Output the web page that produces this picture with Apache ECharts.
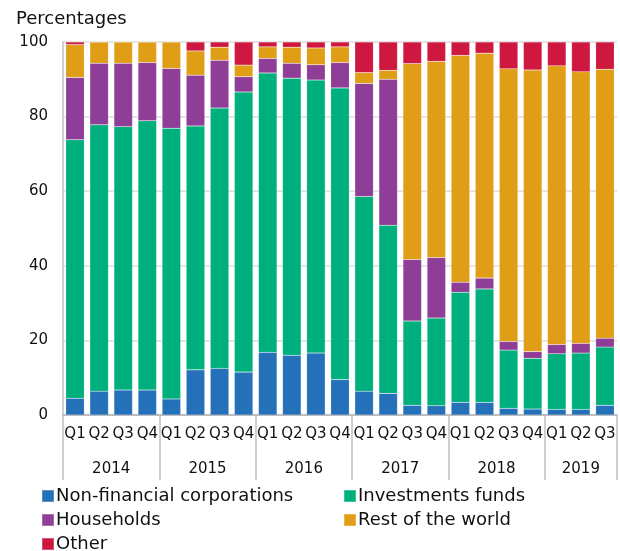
<!DOCTYPE html>
<html>
<head>
<meta charset="utf-8">
<script src="https://cdn.jsdelivr.net/npm/echarts@6/dist/echarts.min.js"></script>
<style>
  html, body { margin: 0; padding: 0; background: #fff; }
  #chart { width: 620px; height: 551px; }
</style>
</head>
<body>
<div id="chart"></div>
<script>
const quarters = ['Q1','Q2','Q3','Q4','Q1','Q2','Q3','Q4','Q1','Q2','Q3','Q4',
  'Q1','Q2','Q3','Q4','Q1','Q2','Q3','Q4','Q1','Q2','Q3'];
const years = ['2014', '2015', '2016', '2017', '2018', '2019'];
const quartersPerYear = [4, 4, 4, 4, 4, 3];

const nonFinancial = [4.5, 6.4, 6.7, 6.7, 4.3, 12.1, 12.5, 11.5, 16.8, 16.0, 16.6, 9.5,
  6.4, 5.8, 2.6, 2.5, 3.4, 3.4, 1.8, 1.6, 1.5, 1.5, 2.6];
const investmentFunds = [69.3, 71.4, 70.6, 72.2, 72.6, 65.4, 69.8, 75.1, 74.9, 74.3, 73.2, 78.2,
  52.2, 45.1, 22.6, 23.5, 29.5, 30.4, 15.6, 13.6, 14.9, 15.1, 15.6];
const households = [16.7, 16.5, 17.0, 15.6, 16.0, 13.6, 12.8, 4.1, 3.9, 4.0, 4.1, 6.8,
  30.3, 39.1, 16.5, 16.2, 2.7, 2.9, 2.3, 1.8, 2.5, 2.6, 2.4];
const restOfWorld = [8.8, 5.7, 5.7, 5.5, 7.1, 6.5, 3.5, 3.1, 3.1, 4.3, 4.5, 4.2,
  2.9, 2.4, 52.5, 52.6, 60.8, 60.3, 73.1, 75.5, 74.7, 72.8, 72.1];
const other = [0.7, 0, 0, 0, 0, 2.4, 1.4, 6.2, 1.3, 1.4, 1.6, 1.3,
  8.2, 7.6, 5.8, 5.2, 3.6, 3.0, 7.2, 7.5, 6.4, 8.0, 7.3];

const yTicks = [0, 20, 40, 60, 80, 100];

// year label sits in the middle of its group of quarters
const yearAt = {};
let start = 0;
quartersPerYear.forEach((n, i) => {
  yearAt[(start + n / 2).toFixed(1)] = years[i];
  start += n;
});
const groupStarts = [];
start = 0;
quartersPerYear.forEach(n => { groupStarts.push(start); start += n; });

const font = '"DejaVu Sans", Verdana, sans-serif';
const seriesDefs = [
  { name: 'Non-financial corporations', data: nonFinancial, color: '#2471b9' },
  { name: 'Investments funds', data: investmentFunds, color: '#00b07c' },
  { name: 'Households', data: households, color: '#8e3e96' },
  { name: 'Rest of the world', data: restOfWorld, color: '#e09d16' },
  { name: 'Other', data: other, color: '#ce1840' }
];

const chart = echarts.init(document.getElementById('chart'), null, { renderer: 'canvas' });

const legendBase = {
  orient: 'vertical',
  top: 487,
  height: 80,
  padding: 0,
  itemWidth: 12,
  itemHeight: 12,
  itemGap: 6,
  icon: 'rect',
  selectedMode: false,
  textStyle: { fontFamily: font, fontSize: 18, color: '#111', lineHeight: 18, padding: [0, 0, 0, -3] }
};

chart.setOption({
  animation: false,
  title: {
    text: 'Percentages',
    left: 11,
    top: 5,
    textStyle: { fontFamily: font, fontSize: 18, fontWeight: 'normal', color: '#111' }
  },
  legend: [
    Object.assign({}, legendBase, { left: 41, data: ['Non-financial corporations', 'Households', 'Other'] }),
    Object.assign({}, legendBase, { left: 343, data: ['Investments funds', 'Rest of the world'] })
  ],
  grid: { left: 63, right: 2, top: 42, bottom: 136, containLabel: false },
  xAxis: [
    {
      type: 'category',
      data: quarters,
      position: 'bottom',
      axisLine: { lineStyle: { color: '#b0b0b0', width: 1.5 } },
      axisTick: {
        show: true,
        length: 65,
        interval: (idx) => groupStarts.indexOf(idx) >= 0,
        lineStyle: { color: '#c0c0c0', width: 1.5 }
      },
      axisLabel: { interval: 0, margin: 12, fontFamily: font, fontSize: 15, color: '#111' }
    },
    {
      type: 'value',
      position: 'bottom',
      min: 0,
      max: quarters.length,
      interval: 0.5,
      axisLine: { show: false },
      axisTick: { show: false },
      splitLine: { show: false },
      axisLabel: {
        margin: 47,
        fontFamily: font,
        fontSize: 15,
        color: '#111',
        formatter: (v) => yearAt[v.toFixed(1)] || ''
      }
    }
  ],
  yAxis: {
    type: 'value',
    min: yTicks[0],
    max: yTicks[yTicks.length - 1],
    interval: 20,
    axisLine: { show: true, lineStyle: { color: '#c0c0c0', width: 1.5 } },
    axisTick: { show: false },
    splitLine: { lineStyle: { color: '#dcdcdc', width: 1.5 } },
    axisLabel: { margin: 15, fontFamily: font, fontSize: 15, color: '#111' }
  },
  series: seriesDefs.map(s => ({
    name: s.name,
    type: 'bar',
    stack: 'total',
    xAxisIndex: 0,
    barCategoryGap: '23%',
    data: s.data,
    itemStyle: { color: s.color, borderColor: 'rgba(255,255,255,0.25)', borderWidth: 0.5 }
  }))
});
</script>
</body>
</html>
